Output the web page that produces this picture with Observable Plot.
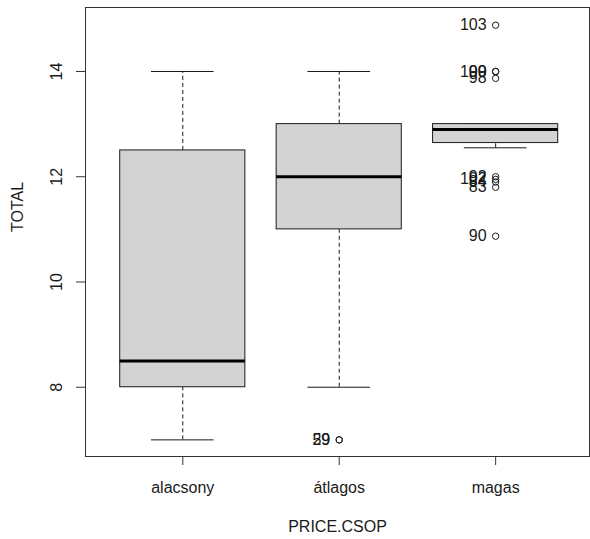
<!DOCTYPE html>
<html>
<head>
<meta charset="utf-8">
<script src="https://cdn.jsdelivr.net/npm/d3@7"></script>
<script src="https://cdn.jsdelivr.net/npm/@observablehq/plot@0.6"></script>
<style>
  html, body { margin: 0; padding: 0; background: #fff; }
  #chart svg { display: block; }
</style>
</head>
<body>
<div id="chart"></div>
<script>
// ---- data ----
const categories = ["alacsony", "átlagos", "magas"];
const whiskerLow  = [7.0, 8.0, 12.55];
const q1          = [8.0, 11.0, 12.64];
const medians     = [8.5, 12.0, 12.9];
const q3          = [12.5, 13.0, 13.0];
const whiskerHigh = [14.0, 14.0, 13.0];

const outlierGroup = ["átlagos", "átlagos", "magas", "magas", "magas", "magas", "magas", "magas", "magas", "magas", "magas"];
const outlierValue = [7.0, 7.0, 14.88, 14.0, 14.0, 13.87, 12.0, 11.95, 11.9, 11.8, 10.87];
const outlierLabel = ["59", "29", "103", "99", "100", "98", "92", "102", "84", "83", "90"];

const yTicks = [8, 10, 12, 14];
const xTitle = "PRICE.CSOP";
const yTitle = "TOTAL";

// ---- tables built from the arrays ----
const boxes = categories.map((c, i) => ({
  pos: i + 1, lo: whiskerLow[i], q1: q1[i], med: medians[i], q3: q3[i], hi: whiskerHigh[i]
}));
const outliers = outlierValue.map((v, i) => ({
  pos: categories.indexOf(outlierGroup[i]) + 1, value: v, label: outlierLabel[i]
}));

const ink = "#1a1a1a";
const font = "'Liberation Sans', Arial, sans-serif";

const chart = Plot.plot({
  width: 590,
  height: 539,
  marginLeft: 85,
  marginRight: 1,
  marginTop: 7,
  marginBottom: 83,
  style: { fontFamily: font, fontSize: "16px", background: "#fff", color: ink },
  x: { domain: [0.378, 3.60], axis: null },
  y: { domain: [6.684, 15.216], axis: null },
  marks: [
    // whiskers (dashed)
    Plot.ruleX(boxes, { x: "pos", y1: "q3", y2: "hi", stroke: ink, strokeDasharray: "4,3", strokeWidth: 1 }),
    Plot.ruleX(boxes, { x: "pos", y1: "lo", y2: "q1", stroke: ink, strokeDasharray: "4,3", strokeWidth: 1 }),
    // whisker caps
    Plot.ruleY(boxes, { y: "hi", x1: d => d.pos - 0.2, x2: d => d.pos + 0.2, stroke: ink, strokeWidth: 1 }),
    Plot.ruleY(boxes, { y: "lo", x1: d => d.pos - 0.2, x2: d => d.pos + 0.2, stroke: ink, strokeWidth: 1 }),
    // boxes
    Plot.rect(boxes, { x1: d => d.pos - 0.4, x2: d => d.pos + 0.4, y1: "q1", y2: "q3", fill: "#d3d3d3", stroke: ink, strokeWidth: 1 }),
    // medians
    Plot.ruleY(boxes, { y: "med", x1: d => d.pos - 0.4, x2: d => d.pos + 0.4, stroke: "#000", strokeWidth: 3 }),
    // outliers
    Plot.dot(outliers, { x: "pos", y: "value", r: 3.2, stroke: ink, fill: "none", strokeWidth: 1 }),
    Plot.text(outliers, { x: "pos", y: "value", text: "label", textAnchor: "end", lineAnchor: "middle", dx: -9, fill: ink, fontSize: 16 }),
    // frame
    Plot.frame({ stroke: "#333", strokeWidth: 1 }),
    // axis ticks
    Plot.axisY(yTicks, { anchor: "left", tickSize: 9, tickFormat: () => "", stroke: "#333", label: null }),
    Plot.axisX([1, 2, 3], { anchor: "bottom", tickSize: 9, tickFormat: () => "", stroke: "#333", label: null }),
    // y tick labels (rotated like R)
    Plot.text(yTicks, { y: d => d, text: d => String(d), frameAnchor: "left", dx: -29, rotate: -90, textAnchor: "middle", lineAnchor: "middle", fill: ink, fontSize: 16 }),
    // x tick labels
    Plot.text(categories, { x: (d, i) => i + 1, text: d => d, frameAnchor: "bottom", dy: 31, lineAnchor: "middle", fill: ink, fontSize: 16 }),
    // axis titles
    Plot.text([yTitle], { text: d => d, frameAnchor: "left", dx: -68, rotate: -90, lineAnchor: "middle", fill: ink, fontSize: 16 }),
    Plot.text([xTitle], { text: d => d, frameAnchor: "bottom", dy: 70, lineAnchor: "middle", fill: ink, fontSize: 16 })
  ]
});

document.getElementById("chart").appendChild(chart);
</script>
</body>
</html>
